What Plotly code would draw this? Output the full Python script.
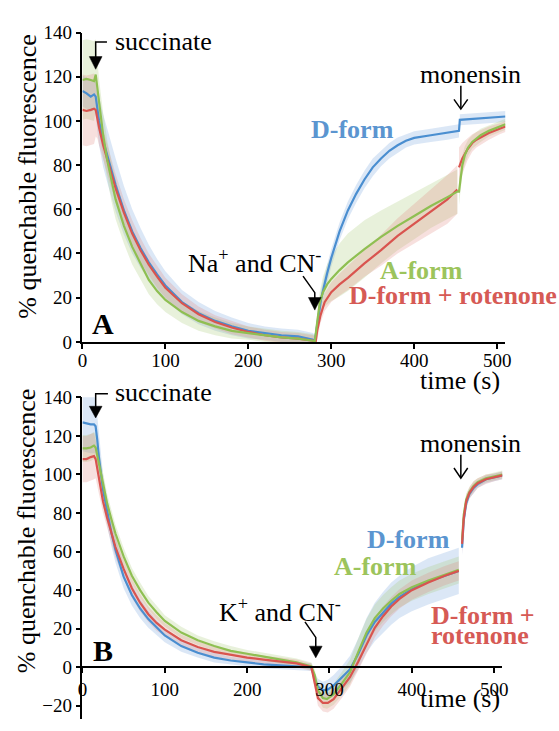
import plotly.graph_objects as go

W, H = 559, 731

# ---------------- Panel A (Na+ and CN-) ----------------
A_BLUE_T = [0, 5, 10, 14, 16, 18, 20, 25, 30, 40, 50, 60, 70, 80, 90, 100, 120, 140, 160, 180, 200, 220, 240, 260, 278,
            280, 283, 288, 295, 300, 310, 320, 330, 340, 350, 360, 370, 380, 390, 400, 420, 440, 454]
A_BLUE_V = [113.5, 112.5, 111, 112, 111, 106, 100, 91, 84, 71, 59.5, 50, 42.5, 36, 30.5, 25.5, 18, 13, 9.5, 7, 5, 4, 3, 2.5, 1,
            0, 8, 20, 31, 38, 50, 59.5, 67, 73.5, 79, 83, 86.5, 89, 91, 92.3, 93.5, 94.5, 95.5]
A_BLUE_SD = [7, 7, 7, 7, 9, 10, 11, 12, 12, 12, 11, 10, 9, 8, 7, 6.5, 5.5, 5, 4.5, 4, 3.5, 3, 3, 3, 3,
             3, 3.5, 4, 4, 4, 4, 4, 4, 4, 4, 3.5, 3.5, 3.5, 3, 3, 3, 3, 3]
A_BLUE_T2 = [455, 470, 490, 510]
A_BLUE_V2 = [100.5, 101, 101.5, 102]
A_BLUE_SD2 = [2.5, 2.5, 2.5, 2.5]

A_GREEN_T = [0, 5, 10, 14, 16, 18, 20, 25, 30, 35, 40, 50, 60, 70, 80, 90, 100, 120, 140, 160, 180, 200, 220, 240, 260, 278,
             280, 283, 286, 290, 295, 300, 310, 320, 340, 360, 380, 400, 420, 440, 452]
A_GREEN_V = [118.5, 119, 118.5, 118, 121, 115, 107, 93.5, 82, 72.5, 64.5, 52.5, 43, 35.5, 28, 23, 19, 13.5, 9.5, 7, 5, 4, 3, 2, 1.5, 0.5,
             0, 10, 17.5, 22.5, 26, 28.5, 32.5, 36, 42, 47.5, 52.5, 57, 61.5, 65.5, 68]
A_GREEN_SD = [18, 18, 18, 18, 16, 14, 12, 10, 9, 9, 9, 8, 8, 7, 6.5, 6, 5.5, 5, 4.5, 4, 3.5, 3, 3, 3, 3, 3,
              3, 4, 5, 7, 9, 10, 12, 13, 13, 12, 11, 10.5, 10, 10, 10]
A_GREEN_T2 = [454, 456, 458, 461, 465, 470, 480, 490, 500, 510]
A_GREEN_V2 = [68, 73, 80, 84.5, 88, 90.5, 93.5, 95.5, 97, 98.5]
A_GREEN_SD2 = [6, 5, 4.5, 4, 3.5, 3, 3, 2.5, 2.5, 2.5]

A_RED_T = [0, 5, 10, 14, 16, 18, 20, 25, 30, 40, 50, 60, 70, 80, 90, 100, 120, 140, 160, 180, 200, 220, 240, 260, 278,
           281, 283, 287, 292, 300, 310, 320, 340, 360, 380, 400, 420, 440, 452]
A_RED_V = [105, 104.5, 105, 105.5, 105, 101, 97, 89, 82.5, 69.5, 58.5, 49, 41.5, 35, 29.5, 24.5, 17.5, 12.5, 9, 6.5, 4.5, 3, 2, 1.5, 0.5,
           -0.5, 5, 12, 18, 22.5, 26, 29, 35.5, 41.5, 48, 53.5, 59, 64.5, 69]
A_RED_SD = [16, 16, 16, 16, 12, 9, 8, 7, 7, 6.5, 6, 6, 5.5, 5, 5, 4.5, 4, 3.5, 3, 3, 2.5, 2.5, 2.5, 2.5, 2.5,
            2.5, 3, 3.5, 4, 4.5, 5, 5.5, 6, 7, 8, 9, 10, 11, 11]
A_RED_T2 = [454, 458, 464, 470, 475, 490, 503, 510]
A_RED_V2 = [79, 83, 87, 90, 91.5, 94.5, 96.5, 97.5]
A_RED_SD2 = [9, 7, 5, 4, 3.5, 3, 2.5, 2.5]

# ---------------- Panel B (K+ and CN-) ----------------
B_BLUE_T = [0, 5, 10, 14, 16, 18, 20, 25, 30, 35, 40, 50, 60, 70, 80, 90, 100, 120, 140, 160, 180, 200, 220, 240, 260, 278,
            282, 286, 292, 298, 305, 315, 325, 335, 345, 355, 365, 375, 385, 400, 420, 440, 457]
B_BLUE_V = [127, 126.5, 126, 126, 125, 118, 109, 92, 80, 70, 61, 47, 37.5, 30.5, 25, 20.5, 16.5, 11, 7.5, 5, 3.5, 2.5, 1.5, 1, 0.5, 0,
            -6, -10, -12, -11.5, -9.5, -5.5, -1, 7, 16.5, 23.5, 28.5, 33, 36.5, 40.5, 44.5, 47.5, 50]
B_BLUE_SD = [15, 15, 15, 15, 14, 12, 10, 8, 7, 7, 6.5, 6, 5.5, 5, 4.5, 4, 3.5, 3, 2.5, 2.5, 2, 2, 2, 2, 2, 2,
             3, 4, 4.5, 5, 5.5, 6, 7, 8, 9, 10, 10.5, 11, 11, 11.5, 12, 12, 12]
B_BLUE_T2 = [461, 463, 466, 470, 475, 480, 490, 500, 510]
B_BLUE_V2 = [62, 76, 85, 90, 93, 95, 97.5, 98.5, 99.5]
B_BLUE_SD2 = [4, 3.5, 3, 2.5, 2.5, 2, 2, 2, 2]

B_GREEN_T = [0, 5, 10, 14, 16, 18, 20, 25, 30, 35, 40, 50, 60, 70, 80, 90, 100, 120, 140, 160, 180, 200, 220, 240, 260, 278,
             282, 286, 292, 297, 305, 315, 325, 335, 345, 355, 365, 375, 385, 400, 420, 440, 457]
B_GREEN_V = [113.5, 113.5, 114, 115, 114, 110, 105, 95, 85, 77, 69.5, 57.5, 47.5, 40, 33.5, 28.5, 24, 18, 14, 11, 8.5, 7, 5.5, 4, 2.5, 0.5,
             -4, -12, -16, -16.5, -14, -8.5, -2.5, 8, 18, 25.5, 30.5, 34.5, 38, 41.5, 45, 48, 50.5]
B_GREEN_SD = [7, 7, 7, 7, 7, 6.5, 6, 5.5, 5, 5, 4.5, 4.5, 4, 4, 3.5, 3.5, 3, 3, 2.5, 2.5, 2.5, 2, 2, 2, 2, 2,
              3, 4, 5, 5, 5.5, 6, 6.5, 7, 7, 7, 7, 7, 7, 7, 7, 7, 7]
B_GREEN_T2 = [461, 463, 466, 470, 475, 480, 490, 500, 510]
B_GREEN_V2 = [66, 79, 87, 91, 94, 96, 98, 99, 100]
B_GREEN_SD2 = [4, 3.5, 3, 2.5, 2.5, 2, 2, 2, 2]

B_RED_T = [0, 5, 10, 14, 16, 18, 20, 25, 30, 40, 50, 60, 70, 80, 90, 100, 120, 140, 160, 180, 200, 220, 240, 260, 278,
           282, 286, 292, 298, 305, 315, 325, 335, 345, 355, 365, 375, 385, 400, 420, 440, 457]
B_RED_V = [108, 108, 109, 109.5, 108, 103, 97, 86, 77.5, 62.5, 51, 41, 33.5, 27.5, 23, 19.5, 14, 10.5, 8, 6.5, 5, 4, 3, 2, 0,
           -8, -16, -18.5, -18.5, -16.5, -11, -5, 3, 12, 20.5, 26.5, 31.5, 35.5, 40, 44, 47.5, 50]
B_RED_SD = [12, 12, 12, 12, 10, 8, 7, 6, 6, 5.5, 5, 5, 4.5, 4, 4, 3.5, 3, 3, 2.5, 2.5, 2.5, 2, 2, 2, 2,
            3, 4, 4.5, 5, 5, 5, 5, 5, 5, 5, 5, 5, 5, 5, 5, 5, 5]
B_RED_T2 = [461, 463, 466, 470, 475, 480, 490, 500, 510]
B_RED_V2 = [64, 77, 86, 90.5, 93.5, 95.5, 97.5, 98.5, 99.5]
B_RED_SD2 = [5, 4, 3.5, 3, 3, 2.5, 2.5, 2, 2]

X_TICKS = [0, 100, 200, 300, 400, 500]
A_Y_TICKS = [0, 20, 40, 60, 80, 100, 120, 140]
B_Y_TICKS = [-20, 0, 20, 40, 60, 80, 100, 120, 140]

BLUE, GREEN, RED = "#4a8ed0", "#8fbf52", "#d9544f"
BLUE_F, GREEN_F, RED_F = "rgba(110,160,220,0.25)", "rgba(165,200,110,0.25)", "rgba(225,130,125,0.25)"
BLUE_T, GREEN_T, RED_T = "#5b95d0", "#9cc45c", "#d65a55"
FONT = "'Liberation Serif', 'Times New Roman', Times, serif"

fig = go.Figure()


def band(t1, v1, s1, t2, v2, s2, fill, xa, ya):
    bx, by = [], []
    for t, v, s in ((t1, v1, s1), (t2, v2, s2)):
        up = [a + b for a, b in zip(v, s)]
        lo = [a - b for a, b in zip(v, s)]
        bx += list(t) + list(t)[::-1] + [None]
        by += up + lo[::-1] + [None]
    fig.add_trace(go.Scatter(x=bx, y=by, fill="toself", fillcolor=fill, mode="lines",
                             line=dict(width=0), hoverinfo="skip", showlegend=False,
                             xaxis=xa, yaxis=ya))


def line(t1, v1, t2, v2, color, xa, ya, gap=True):
    sep_t = [None] if gap else []
    fig.add_trace(go.Scatter(x=list(t1) + sep_t + list(t2), y=list(v1) + sep_t + list(v2),
                             mode="lines", line=dict(color=color, width=2.2),
                             showlegend=False, xaxis=xa, yaxis=ya))


# panel A
band(A_BLUE_T, A_BLUE_V, A_BLUE_SD, A_BLUE_T2, A_BLUE_V2, A_BLUE_SD2, BLUE_F, "x", "y")
band(A_GREEN_T, A_GREEN_V, A_GREEN_SD, A_GREEN_T2, A_GREEN_V2, A_GREEN_SD2, GREEN_F, "x", "y")
band(A_RED_T, A_RED_V, A_RED_SD, A_RED_T2, A_RED_V2, A_RED_SD2, RED_F, "x", "y")
line(A_BLUE_T, A_BLUE_V, A_BLUE_T2, A_BLUE_V2, BLUE, "x", "y", gap=False)
line(A_RED_T, A_RED_V, A_RED_T2, A_RED_V2, RED, "x", "y")
line(A_GREEN_T, A_GREEN_V, A_GREEN_T2, A_GREEN_V2, GREEN, "x", "y", gap=False)

# panel B
band(B_BLUE_T, B_BLUE_V, B_BLUE_SD, B_BLUE_T2, B_BLUE_V2, B_BLUE_SD2, BLUE_F, "x2", "y2")
band(B_GREEN_T, B_GREEN_V, B_GREEN_SD, B_GREEN_T2, B_GREEN_V2, B_GREEN_SD2, GREEN_F, "x2", "y2")
band(B_RED_T, B_RED_V, B_RED_SD, B_RED_T2, B_RED_V2, B_RED_SD2, RED_F, "x2", "y2")
line(B_BLUE_T, B_BLUE_V, B_BLUE_T2, B_BLUE_V2, BLUE, "x2", "y2")
line(B_GREEN_T, B_GREEN_V, B_GREEN_T2, B_GREEN_V2, GREEN, "x2", "y2")
line(B_RED_T, B_RED_V, B_RED_T2, B_RED_V2, RED, "x2", "y2")


def px(x):
    return x / W


def py(y):
    return 1 - y / H


axis_common = dict(showline=True, linecolor="black", linewidth=1.5, ticks="outside", ticklen=5,
                   tickwidth=1.5, tickcolor="black", showgrid=False, zeroline=False,
                   tickfont=dict(family=FONT, size=19, color="black"))

fig.update_layout(
    width=W, height=H, margin=dict(l=0, r=0, t=0, b=0),
    paper_bgcolor="white", plot_bgcolor="white", showlegend=False,
    font=dict(family=FONT),
    xaxis=dict(domain=[px(79), px(510.5)], range=[0, 510], anchor="y", tickvals=X_TICKS,
               ticklabelstandoff=-4, **axis_common),
    yaxis=dict(domain=[py(341.7), py(23.2)], range=[0, 140], anchor="x", tickvals=A_Y_TICKS, **axis_common),
    xaxis2=dict(domain=[px(79), px(507.4)], range=[0, 510], anchor="free", position=py(676.7),
                tickvals=X_TICKS, **axis_common),
    yaxis2=dict(domain=[py(730.3), py(398.8)], range=[-27, 140], anchor="x2", tickvals=B_Y_TICKS, **axis_common),
)

ann = []


def text(x, y, s, size=26, color="black", xanchor="center", angle=0):
    ann.append(dict(x=px(x), y=py(y), xref="paper", yref="paper", text=s, showarrow=False,
                    xanchor=xanchor, yanchor="middle", textangle=angle,
                    font=dict(family=FONT, size=size, color=color)))


# axis titles
text(22, 172, "% quenchable fluorescence", angle=-90)
text(22, 537, "% quenchable fluorescence", angle=-90)
text(464.5, 381, "time (s)")
text(464.5, 709, "time (s)")

# panel A labels
text(110, 32, "succinate", xanchor="left")
text(475, 66, "monensin")
text(185, 259, "Na<sup>+</sup> and CN<sup>-</sup>", xanchor="left")
text(354, 123, "<b>D-form</b>", color=BLUE_T)
text(425, 268.5, "<b>A-form</b>", color=GREEN_T)
text(349, 294, "<b>D-form + rotenone</b>", color=RED_T, xanchor="left")
text(100, 323, "<b>A</b>", size=30)

# panel B labels
text(110, 393.5, "succinate", xanchor="left")
text(475, 446.5, "monensin")
text(216.7, 618, "K<sup>+</sup> and CN<sup>-</sup>", xanchor="left")
text(411.5, 545.5, "<b>D-form</b>", color=BLUE_T)
text(378, 572.5, "<b>A-form</b>", color=GREEN_T)
text(433, 623.5, "<b>D-form +</b>", color=RED_T, xanchor="left")
text(433, 643.5, "<b>rotenone</b>", color=RED_T, xanchor="left")
text(100, 659, "<b>B</b>", size=30)

fig.update_layout(annotations=ann)

shapes = []


def path(points, closed=False, fill=None, width=1.5):
    d = "M " + " L ".join(f"{px(x):.5f},{py(y):.5f}" for x, y in points)
    if closed:
        d += " Z"
    shapes.append(dict(type="path", path=d, xref="paper", yref="paper",
                       line=dict(color="black", width=width if not closed else 0.5),
                       fillcolor=fill if fill else "rgba(0,0,0,0)"))


def filled_head(x, ytop, ytip, half=6.5):
    path([(x - half, ytop), (x + half, ytop), (x, ytip)], closed=True, fill="black")


def open_head(x, ybar, ytip, half=7):
    path([(x - half, ybar), (x, ytip), (x + half, ybar)], width=1.5)


# succinate arrows
path([(104, 33), (92.5, 33), (92.5, 50)])
filled_head(92.5, 48, 61)
path([(105, 395), (92.5, 395), (92.5, 410)])
filled_head(92.5, 408, 420)

# CN arrows
path([(304, 274), (316, 291), (316, 298)])
filled_head(316, 296, 309)
path([(306, 630), (317, 646), (317, 657)])
filled_head(317, 655, 667)

# monensin arrows
path([(465, 78), (465, 101.5)])
open_head(465, 92, 102)
path([(465, 458), (465, 481.5)])
open_head(465, 471.5, 482)

fig.update_layout(shapes=shapes)

fig.write_html("out.html")
